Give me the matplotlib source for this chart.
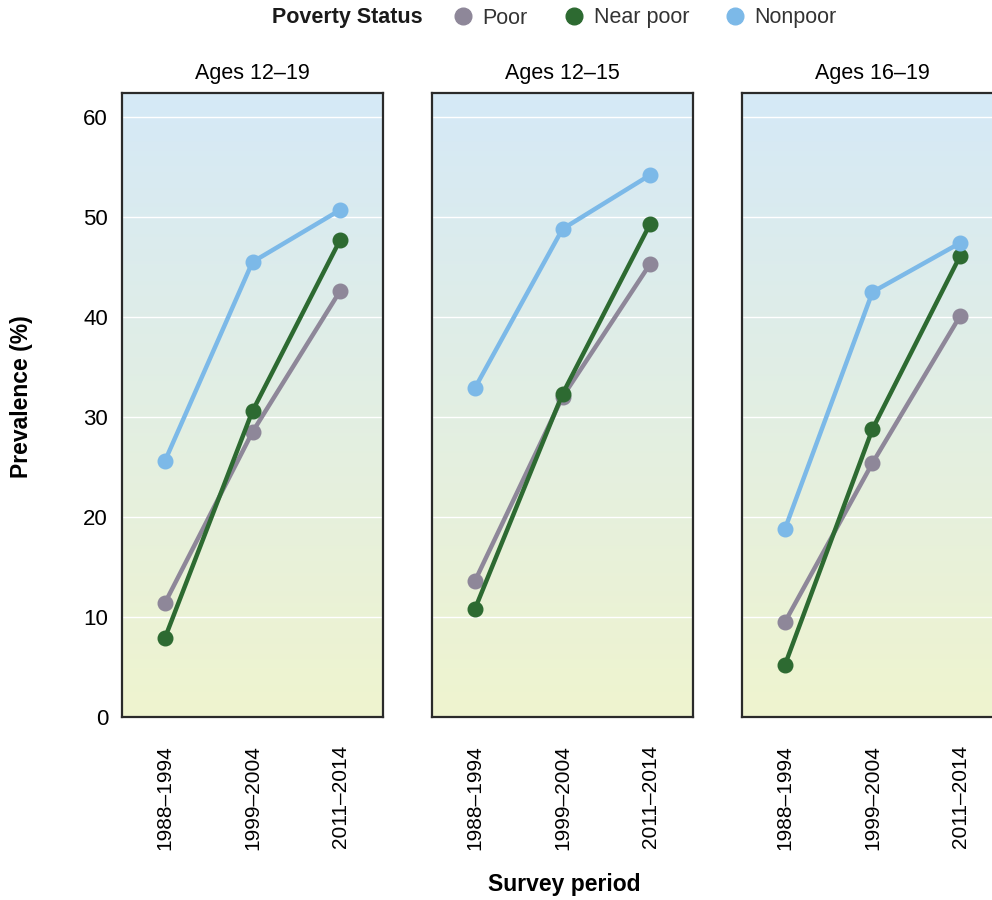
import numpy as np
import matplotlib
matplotlib.use('Agg')
import matplotlib.pyplot as plt
from matplotlib.lines import Line2D

plt.rcParams['font.family'] = ['Liberation Sans', 'DejaVu Sans']

# data
periods = ['1988–1994', '1999–2004', '2011–2014']
panels = ['Ages 12–19', 'Ages 12–15', 'Ages 16–19']
groups = ['Poor', 'Near poor', 'Nonpoor']

poor = [[11.4, 28.5, 42.6], [13.6, 32.0, 45.3], [9.5, 25.4, 40.1]]
near_poor = [[7.9, 30.6, 47.7], [10.8, 32.3, 49.3], [5.2, 28.8, 46.1]]
nonpoor = [[25.6, 45.5, 50.7], [32.9, 48.8, 54.2], [18.8, 42.5, 47.4]]

colors = {'Poor': '#8e8799', 'Near poor': '#2d6a31', 'Nonpoor': '#7cb9e8'}
series = {'Poor': poor, 'Near poor': near_poor, 'Nonpoor': nonpoor}

W, H = 992, 900
fig = plt.figure(figsize=(W / 100, H / 100), dpi=100)

# gradient background: light blue on top, pale yellow-green at bottom
top_c = np.array([213, 233, 247]) / 255
bot_c = np.array([239, 244, 207]) / 255
t = np.linspace(0, 1, 256)[:, None]
grad = (top_c * (1 - t) + bot_c * t).reshape(256, 1, 3)

lefts = [122, 432, 742]
ax_w, ax_top, ax_bot = 261, 93, 717
ymax = (ax_bot - ax_top) / 10.0
x = np.arange(len(periods))

for i, (left, title) in enumerate(zip(lefts, panels)):
    ax = fig.add_axes([left / W, 1 - ax_bot / H, ax_w / W, (ax_bot - ax_top) / H])
    ax.set_xlim(-0.49, 2.49)
    ax.set_ylim(0, ymax)
    ax.imshow(grad, extent=[-0.49, 2.49, 0, ymax], aspect='auto', zorder=0)
    for yv in range(10, 61, 10):
        ax.axhline(yv, color='white', lw=1.0, zorder=1)
    for g in groups:
        ax.plot(x, series[g][i], color=colors[g], lw=3.2, marker='o', ms=10.5,
                zorder=3, solid_capstyle='round')
    ax.set_title(title, fontsize=15.5, pad=10)
    ax.set_xticks(x)
    ax.set_xticklabels(periods, rotation=90, fontsize=15)
    ax.tick_params(axis='x', length=0, pad=20)
    ax.set_yticks(range(0, 61, 10))
    if i == 0:
        ax.tick_params(axis='y', length=0, pad=10, labelsize=16)
    else:
        ax.tick_params(axis='y', length=0, labelleft=False)
    for s in ax.spines.values():
        s.set_color('#2a2a2a')
        s.set_linewidth(1.6)

fig.text(22 / W, 1 - 397 / H, 'Prevalence (%)', rotation=90, ha='center', va='center',
         fontsize=16.5, fontweight='bold')
fig.text(564 / W, 1 - 885 / H, 'Survey period', ha='center', va='center',
         fontsize=16.5, fontweight='bold')

# legend across the top
fig.text(272 / W, 1 - 18 / H, 'Poverty Status', ha='left', va='center',
         fontsize=15.5, fontweight='bold', color='#1a1a1a')
handles = [Line2D([], [], ls='none', marker='o', ms=12, color=colors[g]) for g in groups]
fig.legend(handles, groups, loc='center left', bbox_to_anchor=(431 / W, 1 - 18 / H),
           ncol=3, frameon=False, fontsize=15.5, handletextpad=0.3, columnspacing=1.55,
           handlelength=1.2, labelcolor='#333333')

fig.savefig('out.png', dpi=100)
